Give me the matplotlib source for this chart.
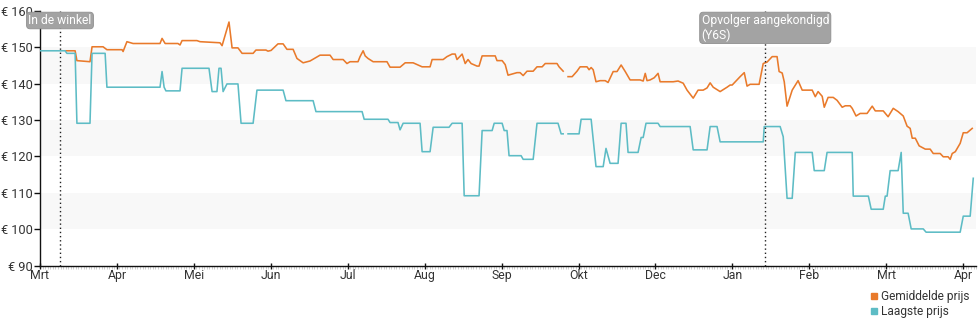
import numpy as np
import matplotlib
matplotlib.use('Agg')
import matplotlib.pyplot as plt
from matplotlib.lines import Line2D

# x = days since start (each month slot on the axis is 30 days wide)
month_labels = ['Mrt', 'Apr', 'Mei', 'Jun', 'Jul', 'Aug', 'Sep', 'Okt',
                'Dec', 'Jan', 'Feb', 'Mrt', 'Apr']
y_ticks = [90, 100, 110, 120, 130, 140, 150, 160]
nan = float('nan')

# (day, price) - Gemiddelde prijs
avg_points = [
    (10.1, 149.0), (13.7, 149.0), (14.4, 146.3), (19.5, 146.0), (20.3, 150.1),
    (24.6, 150.1), (26.1, 149.3), (32.0, 149.3), (32.4, 148.8), (33.9, 151.5),
    (36.3, 151.0), (46.8, 151.0), (47.6, 152.4), (48.8, 151.0), (53.8, 151.0),
    (54.6, 150.6), (55.4, 151.8), (61.2, 151.8), (62.4, 151.5), (70.2, 151.2),
    (71.0, 150.4), (73.7, 156.9), (74.9, 149.8), (77.2, 149.8), (78.8, 148.3),
    (83.1, 148.3), (84.2, 149.2), (88.1, 149.2), (88.9, 148.9), (90.1, 149.1),
    (92.8, 150.9), (94.8, 150.9), (96.3, 149.4), (98.7, 149.4), (100.2, 146.9),
    (102.6, 145.7), (105.3, 146.2), (109.2, 147.8), (113.1, 147.8),
    (114.3, 146.6), (118.2, 146.6), (119.7, 145.5), (120.9, 146.0),
    (124.0, 146.0), (124.8, 147.4), (126.0, 149.0), (126.8, 147.6),
    (127.9, 146.9), (129.9, 146.0), (135.3, 146.0), (136.5, 144.5),
    (140.4, 144.5), (142.4, 145.7), (145.5, 145.7), (147.4, 145.1),
    (149.0, 144.6), (152.1, 144.6), (152.9, 146.6), (157.2, 146.6),
    (158.7, 147.4), (160.7, 148.1), (161.9, 148.1), (162.6, 146.6),
    (164.6, 148.1), (165.8, 145.5), (166.9, 146.6), (168.1, 145.5),
    (170.4, 144.8), (171.2, 144.8), (172.4, 147.6), (177.5, 147.6),
    (178.2, 146.3), (180.2, 146.3), (181.4, 145.2), (182.5, 142.3),
    (186.0, 143.0), (187.2, 143.0), (188.4, 142.2), (189.9, 143.4),
    (192.3, 143.4), (193.8, 144.6), (195.8, 144.6), (197.0, 145.5),
    (201.6, 145.5), (202.4, 144.6), (204.0, 143.4), (205.0, nan),
    (205.9, 141.9), (207.5, 141.9), (209.4, 143.4), (210.6, 144.6),
    (213.3, 144.6), (214.1, 143.8), (214.9, 144.4), (215.7, 143.8),
    (216.8, 140.5), (218.4, 140.8), (220.4, 140.8), (221.5, 140.3),
    (223.5, 143.3), (225.0, 143.3), (226.6, 145.1), (228.2, 143.3),
    (230.1, 141.0), (234.0, 141.0), (235.2, 140.7), (236.0, 142.8),
    (236.7, 140.8), (237.9, 141.0), (239.5, 141.6), (241.0, 142.8),
    (241.8, 140.5), (246.9, 140.5), (248.8, 140.7), (250.8, 140.1),
    (252.3, 138.2), (254.7, 136.0), (256.6, 138.2), (258.6, 138.2),
    (260.1, 138.8), (261.3, 140.2), (262.5, 139.0), (265.2, 137.8),
    (267.9, 139.0), (269.1, 139.6), (269.9, 139.6), (271.8, 141.0),
    (273.0, 141.9), (274.6, 143.0), (275.7, 139.3), (276.9, 139.8),
    (280.4, 139.8), (282.0, 145.5), (283.5, 145.9), (285.5, 147.4),
    (287.4, 147.4), (288.2, 143.3), (289.4, 142.9), (290.2, 140.5),
    (291.3, 133.8), (293.3, 138.2), (295.6, 140.8), (297.2, 138.2),
    (301.1, 138.2), (302.3, 136.4), (303.4, 137.8), (305.0, 136.5),
    (305.8, 133.5), (307.3, 136.2), (309.3, 136.2), (310.8, 135.4),
    (312.8, 133.5), (314.0, 133.9), (315.9, 133.9), (316.7, 133.2),
    (318.2, 131.1), (319.8, 131.8), (322.5, 131.8), (324.5, 133.8),
    (325.7, 132.5), (328.8, 132.5), (330.7, 130.9), (332.7, 133.2),
    (334.6, 132.3), (336.6, 131.1), (338.1, 128.3), (339.3, 127.7),
    (340.1, 125.0), (341.3, 125.0), (342.8, 122.9), (345.2, 122.0),
    (347.1, 122.0), (348.3, 120.8), (351.0, 120.8), (352.2, 119.9),
    (354.1, 119.9), (354.9, 119.2), (355.7, 120.8), (356.9, 121.3),
    (358.8, 123.6), (360.0, 126.5), (361.5, 126.5), (363.5, 127.7),
]

# (day, price) - Laagste prijs
low_points = [
    (0.0, 149.0), (9.8, 149.0), (10.5, 148.3), (13.7, 148.3), (14.4, 129.1),
    (19.5, 129.1), (20.3, 148.3), (25.4, 148.3), (26.1, 139.0), (46.8, 139.0),
    (47.6, 143.3), (48.4, 139.0), (49.1, 138.0), (54.6, 138.0), (55.4, 144.2),
    (65.9, 144.2), (67.1, 137.8), (69.0, 137.8), (69.8, 144.2), (70.6, 144.2),
    (71.4, 137.8), (72.9, 139.9), (77.2, 139.9), (78.4, 129.1), (83.1, 129.1),
    (84.6, 138.2), (94.8, 138.2), (95.9, 135.3), (106.5, 135.3),
    (107.6, 132.3), (125.6, 132.3), (126.4, 130.2), (135.7, 130.2),
    (136.5, 129.3), (139.6, 129.3), (140.4, 127.3), (141.6, 129.1),
    (148.2, 129.1), (149.0, 121.3), (152.1, 121.3), (153.3, 128.0),
    (159.5, 128.0), (160.7, 129.1), (164.6, 129.1), (165.4, 109.2),
    (171.2, 109.2), (172.4, 127.1), (176.3, 127.1), (177.1, 129.1),
    (180.2, 129.1), (181.0, 127.1), (182.1, 127.1), (182.9, 120.2),
    (187.6, 120.2), (188.4, 119.2), (192.3, 119.2), (193.8, 129.1),
    (202.0, 129.1), (203.2, 126.2), (204.0, 126.2), (205.0, nan),
    (205.9, 126.2), (210.2, 126.2), (211.0, 130.2), (214.9, 130.2),
    (216.8, 117.2), (219.6, 117.2), (220.7, 122.2), (222.3, 118.1),
    (225.4, 118.1), (226.6, 129.1), (228.5, 129.1), (229.3, 121.1),
    (233.2, 121.1), (234.4, 125.2), (235.2, 125.2), (236.3, 129.1),
    (241.0, 129.1), (241.8, 128.2), (253.5, 128.2), (254.7, 121.8),
    (260.1, 121.8), (261.3, 128.2), (264.0, 128.2), (265.2, 124.0),
    (282.0, 124.0), (282.4, 128.2), (288.6, 128.2), (289.8, 125.4),
    (291.3, 108.5), (293.3, 108.5), (294.5, 121.1), (301.1, 121.1),
    (301.9, 116.1), (305.8, 116.1), (306.9, 121.1), (316.7, 121.1),
    (317.1, 109.1), (323.0, 109.1), (324.1, 105.5), (328.8, 105.5),
    (329.6, 109.1), (330.3, 109.1), (331.5, 116.1), (334.6, 116.1),
    (335.8, 121.1), (336.6, 104.4), (338.5, 104.4), (339.7, 100.1),
    (344.4, 100.1), (345.5, 99.2), (358.8, 99.2), (360.0, 103.6),
    (362.7, 103.6), (363.9, 114.0),
]

events = [(7.8, 'In de winkel'), (282.8, 'Opvolger aangekondigd\n(Y6S)')]

avg_days, avg_price = zip(*avg_points)
low_days, low_price = zip(*low_points)

ORANGE = '#e97a2b'
TEAL = '#5dbcc5'
TEXT = '#333333'

plt.rcParams['font.family'] = ['Roboto', 'DejaVu Sans']

fig = plt.figure(figsize=(9.8, 3.25), dpi=100)
ax = fig.add_axes([0.0408, 0.1825, 0.9552, 0.7845])

for lo in (100, 120, 140):
    ax.axhspan(lo, lo + 10, color='#f8f8f8', zorder=0, lw=0)

ax.plot(avg_days, avg_price, color=ORANGE, lw=1.15, zorder=3)
ax.plot(low_days, low_price, color=TEAL, lw=1.15, zorder=3)

for day, label in events:
    ax.axvline(day, color='#222222', lw=1, ls=(0, (1, 2)), zorder=4)
    ax.text(day, 159.1, label, ha='center', va='top', multialignment='left',
            color='white', fontsize=8.7, linespacing=1.12, zorder=5,
            bbox=dict(boxstyle='round,pad=0.15,rounding_size=0.3',
                      fc='#a3a3a3', ec='#8f8f8f', lw=0.6))

ax.set_xlim(0, 365)
ax.set_ylim(90, 160)
ax.set_xticks(np.arange(len(month_labels)) * 30)
ax.set_xticklabels(month_labels)
ax.set_xticks(np.arange(0, 366, 1), minor=True)
ax.set_yticks(y_ticks)
ax.set_yticklabels([f'€ {v}' for v in y_ticks])

for side in ('top', 'right'):
    ax.spines[side].set_visible(False)
for side in ('left', 'bottom'):
    ax.spines[side].set_color('#111111')
    ax.spines[side].set_linewidth(1)

ax.tick_params(axis='y', direction='out', length=4, width=1, pad=1,
               labelsize=9.2, labelcolor=TEXT, color='#111111')
ax.tick_params(axis='x', which='major', direction='inout', length=5, width=1,
               pad=0, labelsize=8.8, labelcolor=TEXT, color='#111111')
ax.tick_params(axis='x', which='minor', direction='out', length=2, width=0.6,
               color='#c8c8c8')

handles = [Line2D([], [], ls='none', marker='s', ms=5, color=ORANGE),
           Line2D([], [], ls='none', marker='s', ms=5, color=TEAL)]
fig.legend(handles, ['Gemiddelde prijs', 'Laagste prijs'],
           loc='lower right', bbox_to_anchor=(0.998, -0.005), frameon=False,
           fontsize=8.6, handlelength=0.6, handletextpad=0.3,
           labelspacing=0.15, borderpad=0.2, labelcolor=TEXT)

fig.savefig('out.png', dpi=100)
